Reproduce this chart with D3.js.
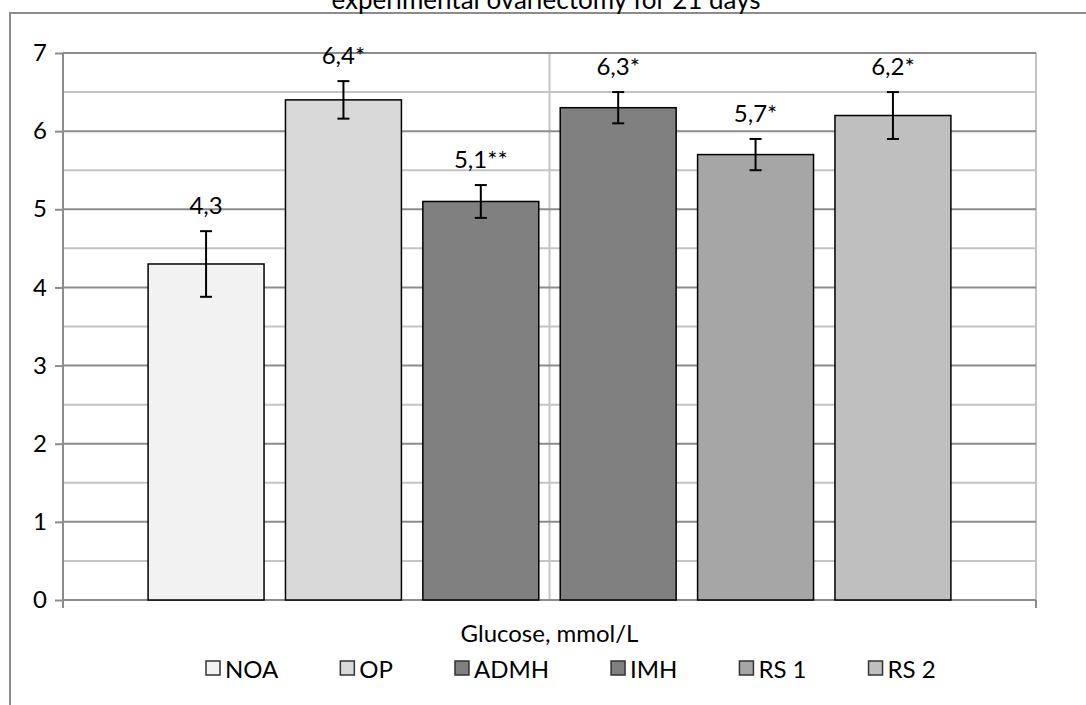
<!DOCTYPE html>
<html lang="en">
<head>
    <meta charset="UTF-8">
    <script src="https://cdn.jsdelivr.net/npm/d3@7"></script>
    <title>glucose</title>
    <style>
      body { margin: 0; background: #fff; }
      text { font-family: Lato, "Open Sans", sans-serif; fill: #000; }
    </style>
</head>
<body>
    <div id="chart"></div>

    <script>
      // data
      var category = ["Glucose, mmol/L"];
      var groups = ["NOA", "OP", "ADMH", "IMH", "RS 1", "RS 2"];
      var values = [4.3, 6.4, 5.1, 6.3, 5.7, 6.2];
      var errors = [0.42, 0.24, 0.21, 0.2, 0.2, 0.3];
      var labels = ["4,3", "6,4*", "5,1**", "6,3*", "5,7*", "6,2*"];
      var fills = ["#f2f2f2", "#d9d9d9", "#808080", "#808080", "#a6a6a6", "#bfbfbf"];
      var yTicks = [0, 1, 2, 3, 4, 5, 6, 7];
      var yMinor = [0.5, 1.5, 2.5, 3.5, 4.5, 5.5, 6.5];

      var W = 1086, H = 705;
      var pl = 63, pr = 1036, pt = 53, pb = 600;
      var fs = 24;

      var svg = d3.select("#chart").append("svg")
          .attr("width", W).attr("height", H);

      // chart frame (cropped)
      svg.append("path")
          .attr("d", "M10," + H + "V13H" + W)
          .attr("fill", "none").attr("stroke", "#8c8c8c").attr("stroke-width", 2);

      svg.append("text")
          .attr("x", 546).attr("y", 9)
          .attr("text-anchor", "middle")
          .style("font-size", "26px")
          .text("experimental ovariectomy for 21 days");

      var y = d3.scaleLinear().domain([0, 7]).range([pb, pt]);
      var x0 = d3.scaleBand().domain(category).range([pl, pr]).paddingOuter(0.106);
      var x1 = d3.scaleBand().domain(groups)
          .range([x0(category[0]), x0(category[0]) + x0.bandwidth()])
          .paddingInner(0.156);

      // minor grid
      svg.append("g").selectAll("line").data(yMinor).enter().append("line")
          .attr("x1", pl).attr("x2", pr)
          .attr("y1", d => y(d)).attr("y2", d => y(d))
          .attr("stroke", "#c4c4c4").attr("stroke-width", 2);

      // vertical grid + right border
      var cx = x0(category[0]) + x0.bandwidth() / 2;
      svg.append("g").selectAll("line").data([cx, pr]).enter().append("line")
          .attr("x1", d => d).attr("x2", d => d)
          .attr("y1", pt).attr("y2", pb)
          .attr("stroke", "#c4c4c4").attr("stroke-width", 2);

      // major grid
      svg.append("g").selectAll("line").data(yTicks.slice(1)).enter().append("line")
          .attr("x1", pl).attr("x2", pr)
          .attr("y1", d => y(d)).attr("y2", d => y(d))
          .attr("stroke", "#8c8c8c").attr("stroke-width", 2);

      // y axis
      var yAxis = d3.axisLeft(y).tickValues(yTicks).tickFormat(d3.format("d"))
          .tickSize(8).tickPadding(8);
      var ga = svg.append("g").attr("transform", "translate(" + pl + ",0)").call(yAxis);
      ga.select(".domain").remove();
      ga.selectAll(".tick line").attr("stroke", "#8c8c8c").attr("stroke-width", 2);
      ga.selectAll(".tick text").style("font-size", fs + "px").style("font-family", "Lato");

      // x axis line with boundary ticks
      svg.append("line").attr("x1", pl).attr("x2", pr)
          .attr("y1", pb).attr("y2", pb)
          .attr("stroke", "#8c8c8c").attr("stroke-width", 2);
      svg.append("g").selectAll("line").data([pl, pr]).enter().append("line")
          .attr("x1", d => d).attr("x2", d => d)
          .attr("y1", d => d == pl ? pt : pb).attr("y2", pb + 8)
          .attr("stroke", "#8c8c8c").attr("stroke-width", 2);

      // bars
      svg.append("g").selectAll("rect").data(groups).enter().append("rect")
          .attr("x", d => x1(d))
          .attr("y", (d, i) => y(values[i]))
          .attr("width", x1.bandwidth())
          .attr("height", (d, i) => y(0) - y(values[i]))
          .attr("fill", (d, i) => fills[i])
          .attr("stroke", "#000").attr("stroke-width", 1.5);

      // error bars
      var eb = svg.append("g").attr("stroke", "#000").attr("stroke-width", 2);
      groups.forEach(function(g, i) {
        var mx = x1(g) + x1.bandwidth() / 2;
        var hi = y(values[i] + errors[i]), lo = y(values[i] - errors[i]);
        eb.append("line").attr("x1", mx).attr("x2", mx).attr("y1", hi).attr("y2", lo);
        eb.append("line").attr("x1", mx - 6).attr("x2", mx + 6).attr("y1", hi).attr("y2", hi);
        eb.append("line").attr("x1", mx - 6).attr("x2", mx + 6).attr("y1", lo).attr("y2", lo);
      });

      // value labels
      svg.append("g").selectAll("text").data(groups).enter().append("text")
          .attr("x", d => x1(d) + x1.bandwidth() / 2)
          .attr("y", (d, i) => y(values[i] + errors[i]) - 17)
          .attr("text-anchor", "middle")
          .style("font-size", fs + "px")
          .text((d, i) => labels[i]);

      // axis title
      svg.append("text")
          .attr("x", cx).attr("y", 642)
          .attr("text-anchor", "middle")
          .style("font-size", fs + "px")
          .text(category[0]);

      // legend
      var lg = svg.append("g");
      var lx = 206;
      groups.forEach(function(g, i) {
        lg.append("rect")
            .attr("x", lx).attr("y", 661).attr("width", 14).attr("height", 14)
            .attr("fill", fills[i]).attr("stroke", "#333").attr("stroke-width", 1.5);
        var t = lg.append("text")
            .attr("x", lx + 19).attr("y", 678)
            .style("font-size", fs + "px")
            .text(g);
        lx += 19 + t.node().getComputedTextLength() + 62;
      });
    </script>
</body>
</html>
